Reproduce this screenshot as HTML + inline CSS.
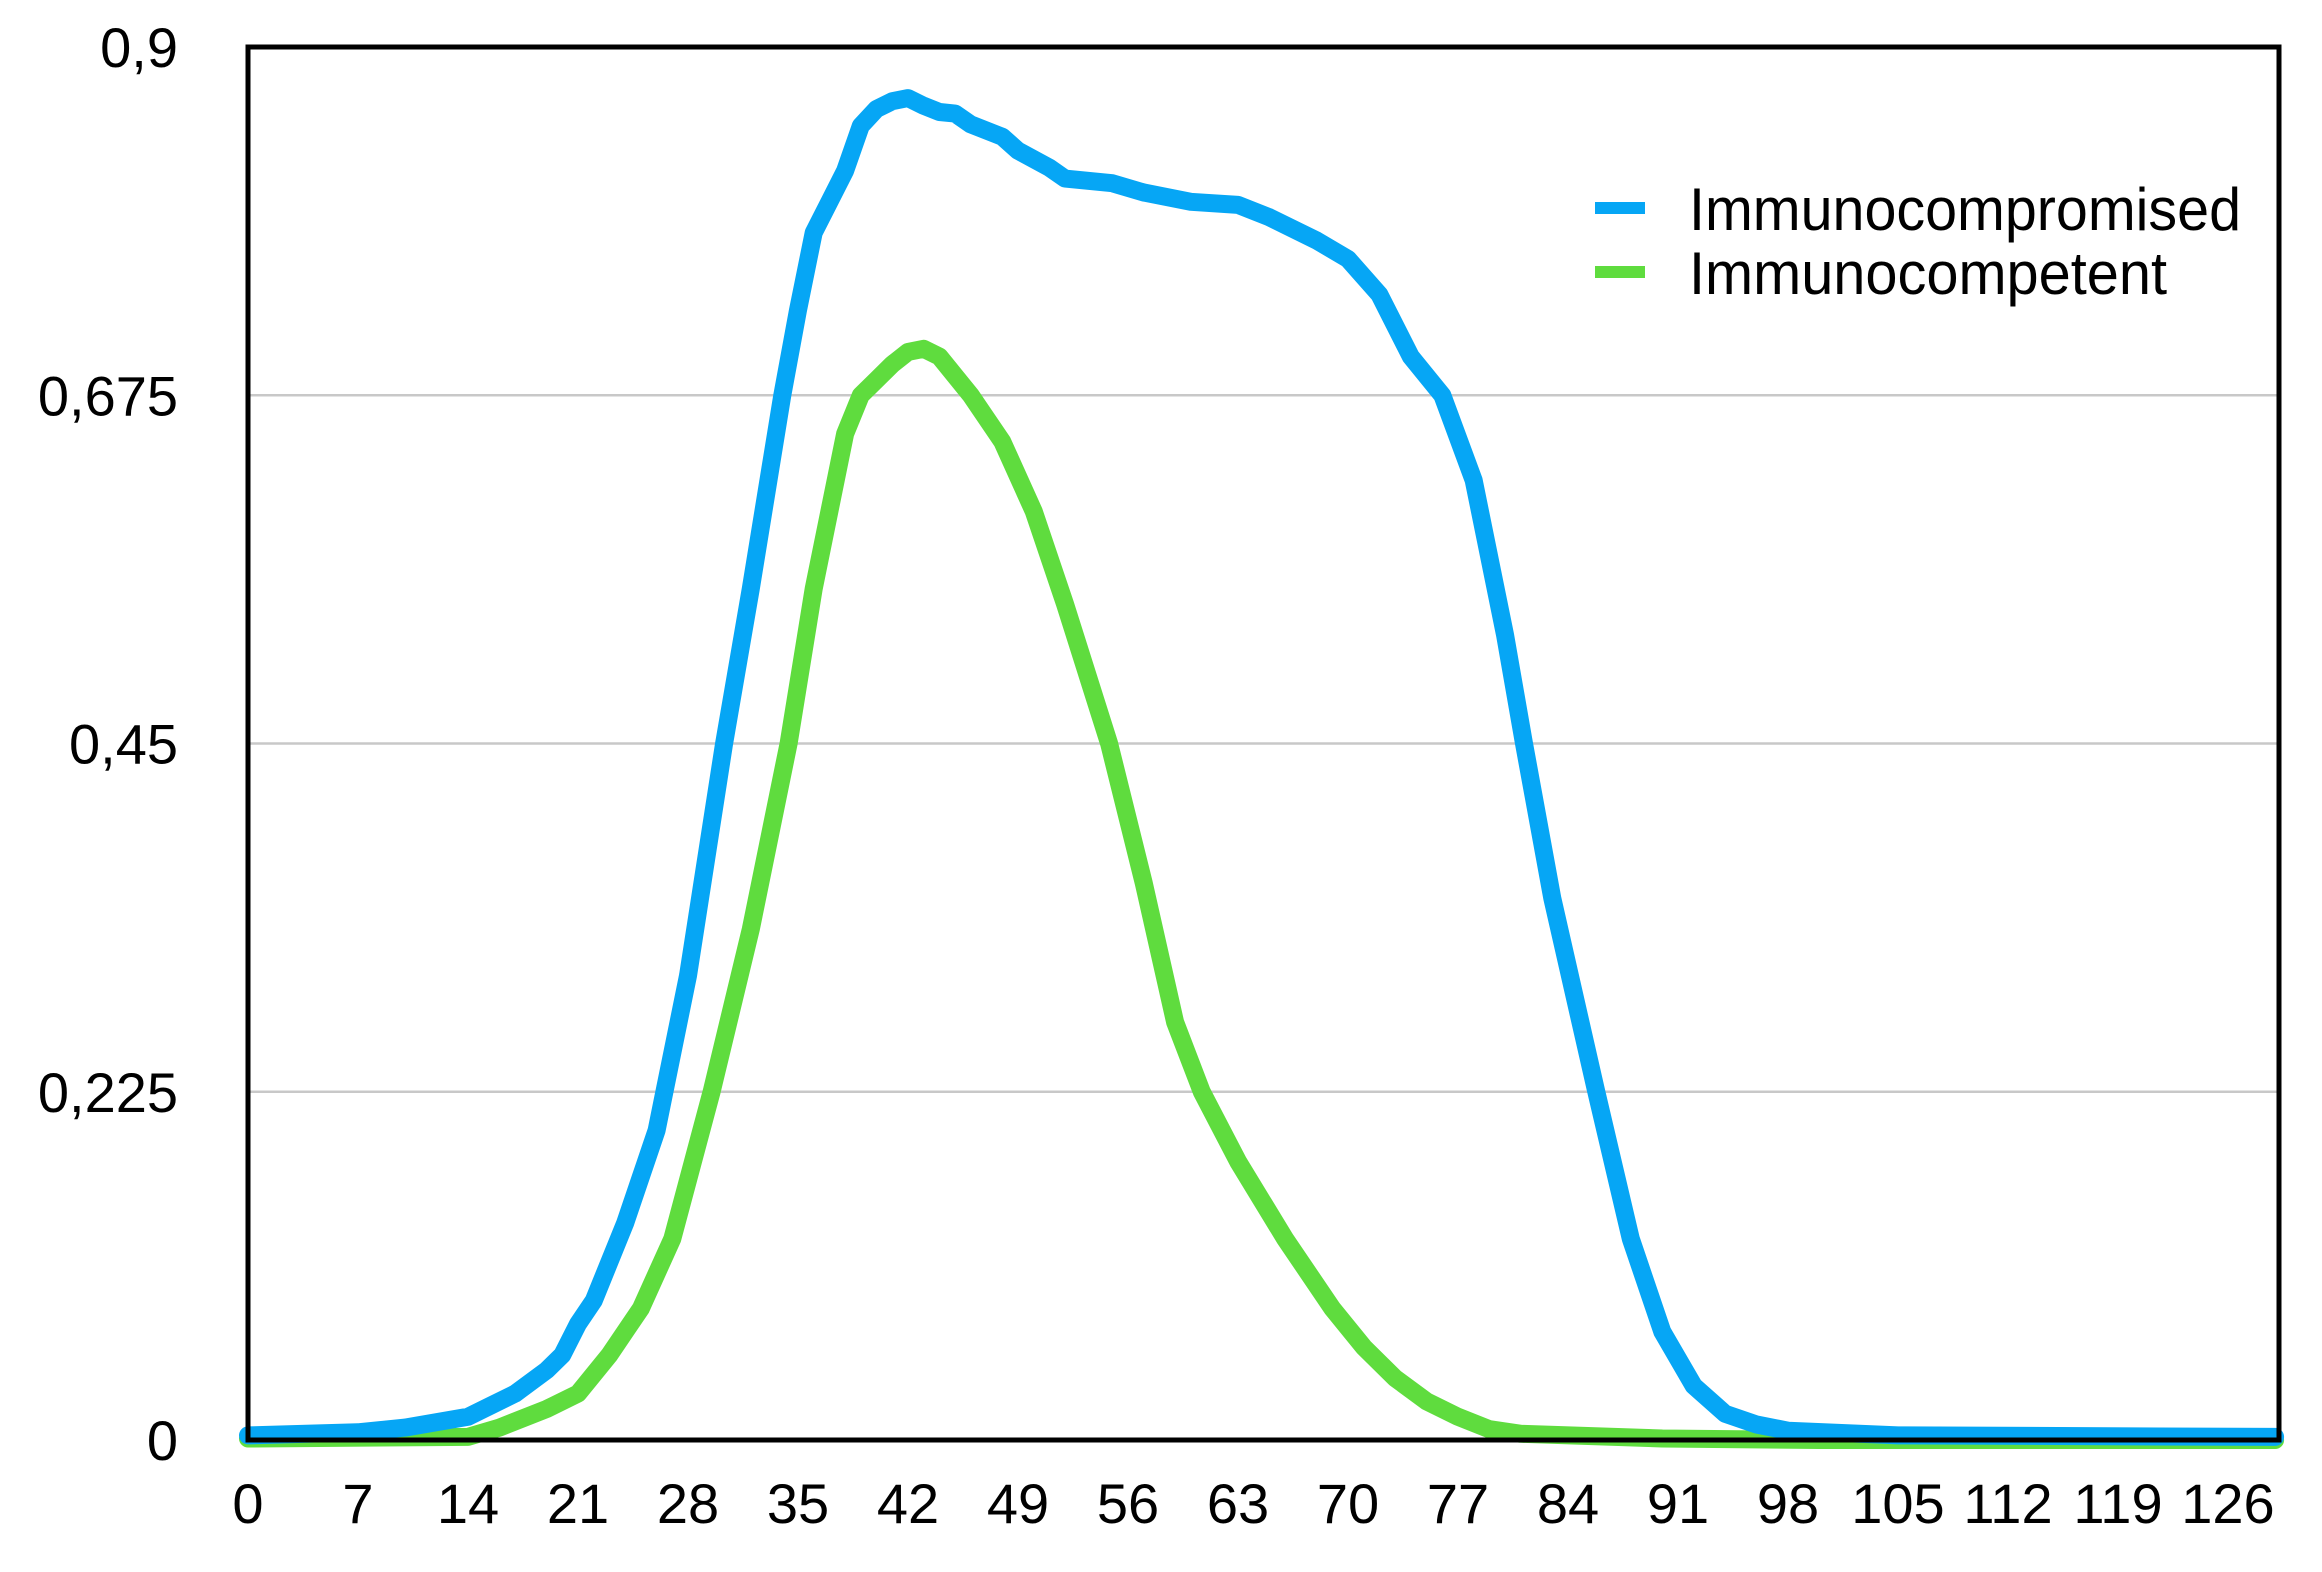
<!DOCTYPE html>
<html><head><meta charset="utf-8"><style>
html,body{margin:0;padding:0;background:#fff;}
svg{display:block;font-family:"Liberation Sans",Arial,sans-serif;}
</style></head><body>
<svg id="chart" width="2322" height="1572" viewBox="0 0 2322 1572" xmlns="http://www.w3.org/2000/svg">
<g id="grid"></g>
<g id="series"></g>
<rect x="248" y="47" width="2031" height="1393" fill="none" stroke="#000" stroke-width="5"/>
<g id="yticks"></g>
<g id="xticks"></g>
<g>
<g>
<line x1="1595" y1="208" x2="1645" y2="208" stroke="#06a6f5" stroke-width="12"/>
<text x="1689" y="230" font-size="60" textLength="552" lengthAdjust="spacingAndGlyphs">Immunocompromised</text>
</g>
<g>
<line x1="1595" y1="272" x2="1645" y2="272" stroke="#5fdc3e" stroke-width="12"/>
<text x="1689" y="294" font-size="60" textLength="478" lengthAdjust="spacingAndGlyphs">Immunocompetent</text>
</g>
</g>
</svg>
<script>
const blueDays = [0,7,10,14,17,19,20,21,22,24,26,26.5,28,30.3,32,34,35,36,37,38,39,40,41,42,43,44,45,46,48,49,51,52,55,57,60,63,65,68,70,72,74,76,78,80,81.2,83,85.8,88,90,92,94,96,98,105,129];
const blueVals = [0.003,0.005,0.008,0.015,0.03,0.045,0.055,0.075,0.09,0.14,0.2,0.225,0.3,0.45,0.55,0.675,0.73,0.78,0.8,0.82,0.849,0.86,0.865,0.867,0.862,0.858,0.857,0.85,0.842,0.833,0.822,0.815,0.812,0.806,0.8,0.798,0.79,0.775,0.763,0.74,0.7,0.675,0.62,0.52,0.45,0.35,0.225,0.13,0.07,0.035,0.017,0.01,0.006,0.003,0.002];
const greenDays = [0,14,16,19,21,23,25,27,29.5,32,34.4,36,38,39,40,41,42,43,44,46,48,50,52,54.8,57,59,60.7,63,66,69,71,73,75,77,79,81,90,100,129];
const greenVals = [0.001,0.002,0.008,0.02,0.03,0.055,0.085,0.13,0.225,0.33,0.45,0.55,0.65,0.675,0.685,0.695,0.703,0.705,0.7,0.675,0.645,0.6,0.54,0.45,0.36,0.27,0.225,0.18,0.13,0.085,0.06,0.04,0.025,0.015,0.007,0.004,0.001,0,0];
const yTicks = [0,0.225,0.45,0.675,0.9];
const yTickLabels = ["0","0,225","0,45","0,675","0,9"];
const xTicks = [0,7,14,21,28,35,42,49,56,63,70,77,84,91,98,105,112,119,126];

const NS="http://www.w3.org/2000/svg";
const X0=248, PX=15.714, Y0=1440, YH=1393, YMAX=0.9;
function xs(d){return X0+d*PX;}
function ys(v){return Y0-v/YMAX*YH;}

const grid=document.getElementById('grid');
yTicks.forEach((t,i)=>{
  if(t>0&&t<YMAX){
    const l=document.createElementNS(NS,'line');
    
    
    l.setAttribute('x1',X0);l.setAttribute('x2',2279);
    l.setAttribute('y1',ys(t));l.setAttribute('y2',ys(t));
    l.setAttribute('stroke','#c8c8c8');l.setAttribute('stroke-width','2.5');
    grid.appendChild(l);
  }
  const tx=document.createElementNS(NS,'text');
  
  
  tx.setAttribute('x',178);tx.setAttribute('y',ys(t)+20);
  tx.setAttribute('text-anchor','end');tx.setAttribute('font-size','56');
  tx.textContent=yTickLabels[i];
  document.getElementById('yticks').appendChild(tx);
});
xTicks.forEach(t=>{
  const tx=document.createElementNS(NS,'text');
  
  
  tx.setAttribute('x',xs(t));tx.setAttribute('y',1523);
  tx.setAttribute('text-anchor','middle');tx.setAttribute('font-size','56');
  tx.textContent=String(t);
  document.getElementById('xticks').appendChild(tx);
});
function drawLine(days,vals,color,name){
  const p=document.createElementNS(NS,'polyline');
  
  
  p.setAttribute('points',days.map((d,i)=>xs(d).toFixed(1)+','+ys(vals[i]).toFixed(1)).join(' '));
  p.setAttribute('fill','none');p.setAttribute('stroke',color);
  p.setAttribute('stroke-width','18');p.setAttribute('stroke-linejoin','round');p.setAttribute('stroke-linecap','round');
  document.getElementById('series').appendChild(p);
}
drawLine(greenDays,greenVals,'#5fdc3e','immunocompetent-line');
drawLine(blueDays,blueVals,'#06a6f5','immunocompromised-line');
</script>
</body></html>
